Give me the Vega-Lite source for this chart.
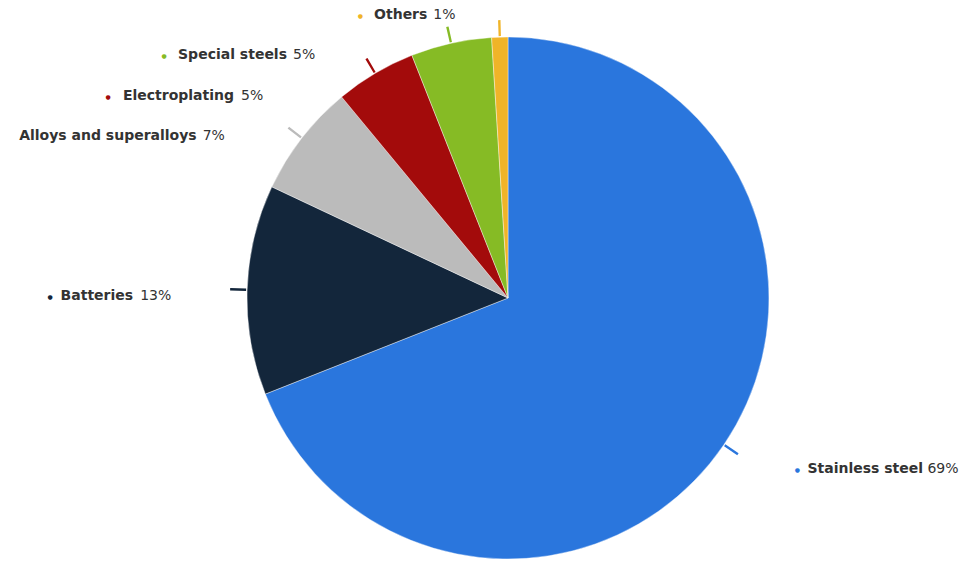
{
  "$schema": "https://vega.github.io/schema/vega-lite/v6.json",
  "width": 522,
  "height": 522,
  "autosize": {"type": "none"},
  "padding": {"left": 247, "top": 37, "right": 202, "bottom": 6},
  "background": "white",
  "config": {"view": {"stroke": null}, "text": {"font": "DejaVu Sans", "fontSize": 14, "color": "#333333", "baseline": "middle"}},
  "data": {
    "values": [
      {"name": "Stainless steel", "value": 69},
      {"name": "Batteries", "value": 13},
      {"name": "Alloys and superalloys", "value": 7},
      {"name": "Electroplating", "value": 5},
      {"name": "Special steels", "value": 5},
      {"name": "Others", "value": 1}
    ]
  },
  "transform": [
    {"window": [{"op": "sum", "field": "value", "as": "cum"}], "frame": [null, 0]},
    {"calculate": "datum.cum - datum.value", "as": "start"},
    {"calculate": "datum.cum - datum.value / 2", "as": "mid"},
    {"calculate": "datum.mid - 0.07", "as": "t1"},
    {"calculate": "datum.mid + 0.07", "as": "t2"},
    {"calculate": "datum.value + '%'", "as": "pct"}
  ],
  "layer": [
    {
      "mark": {"type": "arc", "outerRadius": 261, "stroke": "#ffffff", "strokeWidth": 0.4},
      "encoding": {
        "theta": {"field": "start", "type": "quantitative", "scale": {"domain": [0, 100]}},
        "theta2": {"field": "cum"},
        "color": {
          "field": "name", "type": "nominal", "legend": null,
          "scale": {
            "domain": ["Stainless steel", "Batteries", "Alloys and superalloys", "Electroplating", "Special steels", "Others"],
            "range": ["#2a76dd", "#13263b", "#bbbbbb", "#a30b0b", "#86bb25", "#f0b428"]
          }
        }
      }
    },
    {
      "mark": {"type": "arc", "innerRadius": 262, "outerRadius": 278},
      "encoding": {
        "theta": {"field": "t1", "type": "quantitative"},
        "theta2": {"field": "t2"},
        "color": {"field": "name", "type": "nominal", "legend": null}
      }
    },
    {
      "transform": [{"filter": "datum.name === 'Stainless steel'"}],
      "layer": [
        {"mark": {"type": "text", "radius": 275, "align": "left", "fontWeight": "bold", "dx": 72, "dy": 16},
         "encoding": {"theta": {"field": "mid", "type": "quantitative", "stack": null}, "text": {"field": "name"}}},
        {"mark": {"type": "text", "radius": 275, "align": "left", "dx": 192, "dy": 16},
         "encoding": {"theta": {"field": "mid", "type": "quantitative", "stack": null}, "text": {"field": "pct"}}},
        {"mark": {"type": "text", "radius": 275, "align": "center", "fontSize": 6, "text": "●", "dx": 62, "dy": 17},
         "encoding": {"theta": {"field": "mid", "type": "quantitative", "stack": null}, "color": {"field": "name", "type": "nominal", "legend": null}}}
      ]
    },
    {
      "transform": [{"filter": "datum.name === 'Batteries'"}],
      "layer": [
        {"mark": {"type": "text", "radius": 275, "align": "right", "fontWeight": "bold", "dx": -100, "dy": 7},
         "encoding": {"theta": {"field": "mid", "type": "quantitative", "stack": null}, "text": {"field": "name"}}},
        {"mark": {"type": "text", "radius": 275, "align": "left", "dx": -93, "dy": 7},
         "encoding": {"theta": {"field": "mid", "type": "quantitative", "stack": null}, "text": {"field": "pct"}}},
        {"mark": {"type": "text", "radius": 275, "align": "center", "fontSize": 6, "text": "●", "dx": -183, "dy": 8},
         "encoding": {"theta": {"field": "mid", "type": "quantitative", "stack": null}, "color": {"field": "name", "type": "nominal", "legend": null}}}
      ]
    },
    {
      "transform": [{"filter": "datum.name === 'Alloys and superalloys'"}],
      "layer": [
        {"mark": {"type": "text", "radius": 275, "align": "right", "fontWeight": "bold", "dx": -94, "dy": 7},
         "encoding": {"theta": {"field": "mid", "type": "quantitative", "stack": null}, "text": {"field": "name"}}},
        {"mark": {"type": "text", "radius": 275, "align": "left", "dx": -88, "dy": 7},
         "encoding": {"theta": {"field": "mid", "type": "quantitative", "stack": null}, "text": {"field": "pct"}}}
      ]
    },
    {
      "transform": [{"filter": "datum.name === 'Electroplating'"}],
      "layer": [
        {"mark": {"type": "text", "radius": 275, "align": "right", "fontWeight": "bold", "dx": -134, "dy": 35},
         "encoding": {"theta": {"field": "mid", "type": "quantitative", "stack": null}, "text": {"field": "name"}}},
        {"mark": {"type": "text", "radius": 275, "align": "left", "dx": -127, "dy": 35},
         "encoding": {"theta": {"field": "mid", "type": "quantitative", "stack": null}, "text": {"field": "pct"}}},
        {"mark": {"type": "text", "radius": 275, "align": "center", "fontSize": 6, "text": "●", "dx": -260, "dy": 36},
         "encoding": {"theta": {"field": "mid", "type": "quantitative", "stack": null}, "color": {"field": "name", "type": "nominal", "legend": null}}}
      ]
    },
    {
      "transform": [{"filter": "datum.name === 'Special steels'"}],
      "layer": [
        {"mark": {"type": "text", "radius": 275, "align": "right", "fontWeight": "bold", "dx": -161, "dy": 25},
         "encoding": {"theta": {"field": "mid", "type": "quantitative", "stack": null}, "text": {"field": "name"}}},
        {"mark": {"type": "text", "radius": 275, "align": "left", "dx": -155, "dy": 25},
         "encoding": {"theta": {"field": "mid", "type": "quantitative", "stack": null}, "text": {"field": "pct"}}},
        {"mark": {"type": "text", "radius": 275, "align": "center", "fontSize": 6, "text": "●", "dx": -284, "dy": 26},
         "encoding": {"theta": {"field": "mid", "type": "quantitative", "stack": null}, "color": {"field": "name", "type": "nominal", "legend": null}}}
      ]
    },
    {
      "transform": [{"filter": "datum.name === 'Others'"}],
      "layer": [
        {"mark": {"type": "text", "radius": 275, "align": "right", "fontWeight": "bold", "dx": -72, "dy": -8},
         "encoding": {"theta": {"field": "mid", "type": "quantitative", "stack": null}, "text": {"field": "name"}}},
        {"mark": {"type": "text", "radius": 275, "align": "left", "dx": -66, "dy": -8},
         "encoding": {"theta": {"field": "mid", "type": "quantitative", "stack": null}, "text": {"field": "pct"}}},
        {"mark": {"type": "text", "radius": 275, "align": "center", "fontSize": 6, "text": "●", "dx": -139, "dy": -7},
         "encoding": {"theta": {"field": "mid", "type": "quantitative", "stack": null}, "color": {"field": "name", "type": "nominal", "legend": null}}}
      ]
    }
  ]
}
